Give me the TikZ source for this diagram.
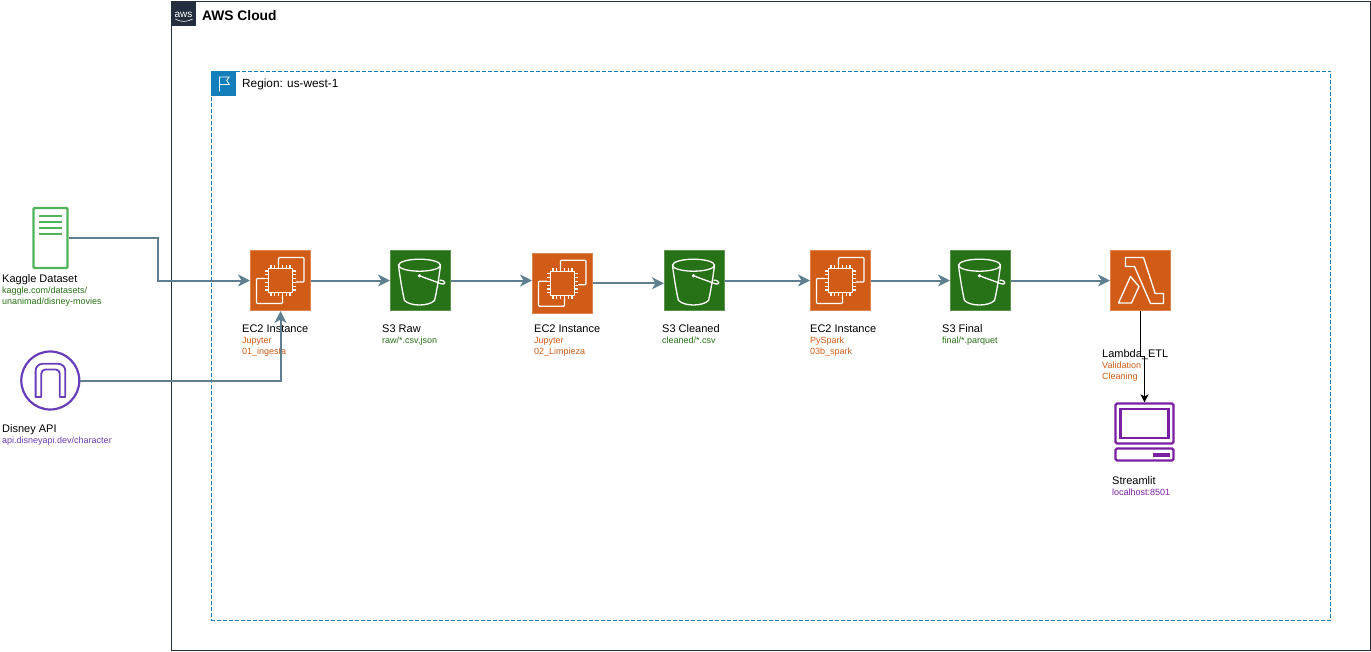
\documentclass[tikz,border=0pt]{standalone}
\usepackage{fontspec}
\setmainfont{Liberation Sans}
\usetikzlibrary{arrows.meta,positioning,calc}
\definecolor{cloudink}{HTML}{232F3E}
\definecolor{regionink}{HTML}{147EBA}
\definecolor{ec2ink}{HTML}{D05C17}
\definecolor{s3ink}{HTML}{277116}
\definecolor{srvink}{HTML}{4FB35A}
\definecolor{apiink}{HTML}{6A3DB8}
\definecolor{mainink}{HTML}{7A1FA2}
\definecolor{flowink}{HTML}{5F7F90}
\newcommand{\nm}[1]{{\fontsize{11}{12}\selectfont\color{black}#1}}

\begin{document}
\begin{tikzpicture}[x=1pt,y=-1pt,
  tile/.style={draw=#1!75!white,fill=#1,line width=0.6pt,minimum size=60.4pt,inner sep=0pt},
  lbl/.style={anchor=north west,align=left,inner sep=0pt,font=\fontsize{9}{11}\selectfont},
  flow/.style={-{Stealth[length=12pt,width=12pt,inset=3.5pt]},draw=flowink,line width=2pt},
  thin wht/.style={draw=white,line width=1.3pt,line join=round},
  ec2chip/.pic={
    \draw[thin wht] (-12,-12) rectangle (12,12);
    \foreach \t in {-9.5,-5.7,-1.9,1.9,5.7,9.5}{
      \draw[thin wht] (\t,-15.5) -- (\t,-12) (\t,12) -- (\t,15.5);
      \draw[thin wht] (-15.5,\t) -- (-12,\t) (12,\t) -- (15.5,\t);
    }
    \draw[thin wht,rounded corners=1pt] (-2,-15) -- (-2,-23) -- (23.5,-23) -- (23.5,1.5) -- (15.5,1.5);
    \draw[thin wht,rounded corners=1pt] (-15.5,-2) -- (-24,-2) -- (-24,23) -- (2,23) -- (2,15);
  },
  s3bucket/.pic={
    \draw[thin wht] (-1,-15.3) ellipse (21 and 6);
    \draw[thin wht] (-22,-15) .. controls (-20,0) and (-18,12) .. (-16,20) .. controls (-10,26) and (8,26) .. (14,20) .. controls (16,12) and (18,0) .. (20,-15);
    \fill[white] (-1,-4.7) circle (1.9);
    \draw[thin wht] (-1,-4.7) -- (20,3) .. controls (26,5) and (26,0) .. (19,-0.5);
  },
  lamglyph/.pic={
    \draw[thin wht] (-15,-23) -- (3,-23) -- (14.7,13) -- (23,13) -- (23,23) -- (10,23) -- (-6,-14) -- (-15,-14) -- cycle;
    \draw[thin wht] (-10,-4) -- (-22,22.5) -- (-9,22.5) -- (-1.5,6) -- cycle;
  }]
\useasboundingbox (0,0) rectangle (1371,651);
\node[draw=cloudink,line width=1pt,minimum width=1199pt,minimum height=649.5pt,anchor=north west,inner sep=0pt] (cloudBox) at (170.7,0.5) {};
\node[fill=cloudink,minimum size=25pt,inner sep=0pt,anchor=north west] (cloudTab) at (170.7,0.5) {};
\node[text=white,inner sep=0pt,font=\fontsize{10}{10}\selectfont] (cloudLogo) at ([yshift=-2pt]cloudTab.center) {aws};
\draw[white,line width=0.6pt] ($(cloudLogo.south west)+(1,1)$) .. controls ($(cloudLogo.south)+(-2,4)$) and ($(cloudLogo.south)+(3,4)$) .. ($(cloudLogo.south east)+(0,1)$);
\node[anchor=west,inner sep=0pt,font=\bfseries\fontsize{13.8}{14}\selectfont] (cloudTxt) at (202,15.5) {AWS Cloud};
\node[draw=regionink,dash pattern=on 4pt off 2pt,line width=1pt,minimum width=1119.5pt,minimum height=549.5pt,anchor=north west,inner sep=0pt] (regionBox) at (210.5,70.7) {};
\node[fill=regionink,minimum size=25pt,inner sep=0pt,anchor=north west] (regionTab) at (210.5,70.7) {};
\draw[white,line width=0.8pt] ($(regionTab.center)+(-3.8,8)$) -- ($(regionTab.center)+(-3.8,-6.5)$) -- ($(regionTab.center)+(6,-6.5)$) -- ($(regionTab.center)+(3.5,-3)$) -- ($(regionTab.center)+(6,1)$) -- ($(regionTab.center)+(-3.8,1)$);
\node[anchor=west,inner sep=0pt,font=\fontsize{11.8}{12}\selectfont] (regionTxt) at (242,84.5) {Region: us-west-1};

\node[draw=srvink,line width=2.2pt,rounded corners=1pt,minimum width=34pt,minimum height=60pt,inner sep=0pt] (kaggleSrv) at (50.5,238) {};
\foreach \t in {-22.3,-16.3,-10.3,-4.3}
  \draw[srvink,line width=2pt] ($(kaggleSrv.center)+(-11.5,\t)$) -- ($(kaggleSrv.center)+(11.5,\t)$);
\node[draw=apiink,circle,line width=2.2pt,minimum size=58pt,inner sep=0pt] (apiGate) at (50.3,380.5) {};
\draw[apiink,line width=1.8pt,line join=round] ($(apiGate.center)+(-9,16.5)$) -- ($(apiGate.center)+(-14.7,16.5)$) [rounded corners=7pt] -- ($(apiGate.center)+(-14.7,-16.7)$) -- ($(apiGate.center)+(15,-16.7)$) [sharp corners] -- ($(apiGate.center)+(15,16.5)$) -- ($(apiGate.center)+(9.5,16.5)$) [rounded corners=4pt] -- ($(apiGate.center)+(9.5,-11)$) -- ($(apiGate.center)+(-9,-11)$) [sharp corners] -- cycle;

\node[tile=ec2ink] (ec2Ing) at (280.5,280.5) {};
\node[tile=s3ink] (s3Raw) at (420.5,280.5) {};
\node[tile=ec2ink] (ec2Lim) at (562.5,283.3) {};
\node[tile=s3ink] (s3Cln) at (694.5,280.5) {};
\node[tile=ec2ink] (ec2Spk) at (840.5,280.5) {};
\node[tile=s3ink] (s3Fin) at (980.5,280.5) {};
\node[tile=ec2ink] (lamEtl) at (1140.5,280.5) {};
\pic at (ec2Ing) {ec2chip};
\pic at (ec2Lim) {ec2chip};
\pic at (ec2Spk) {ec2chip};
\pic at (s3Raw) {s3bucket};
\pic at (s3Cln) {s3bucket};
\pic at (s3Fin) {s3bucket};
\pic at (lamEtl) {lamglyph};

\node[draw=mainink,line width=2.2pt,rounded corners=1.5pt,minimum width=58pt,minimum height=40pt,inner sep=0pt] (stream) at (1144.5,423.5) {};
\node[draw=mainink,line width=2.2pt,minimum width=48pt,minimum height=29pt,inner sep=0pt] (streamScr) at (stream.center) {};
\node[draw=mainink,line width=2.2pt,rounded corners=1.5pt,minimum width=58pt,minimum height=12pt,inner sep=0pt] (streamBase) at (1144.5,454.5) {};
\fill[mainink] ($(streamBase.center)+(8.5,-2)$) rectangle ($(streamBase.center)+(25.5,2.5)$);

\node[lbl,text=s3ink] (kaggleLbl) at (2,274.5) {\nm{Kaggle Dataset}\\kaggle.com/datasets/\\unanimad/disney-movies};
\node[lbl,text=apiink] (apiLbl) at (2,424.5) {\nm{Disney API}\\api.disneyapi.dev/character};
\node[lbl,text=ec2ink] (ec2IngLbl) at (242,324.5) {\nm{EC2 Instance}\\Jupyter\\01\_ingesta};
\node[lbl,text=s3ink] (s3RawLbl) at (382,324.5) {\nm{S3 Raw}\\raw/*.csv,json};
\node[lbl,text=ec2ink] (ec2LimLbl) at (534,324.5) {\nm{EC2 Instance}\\Jupyter\\02\_Limpieza};
\node[lbl,text=s3ink] (s3ClnLbl) at (662,324.5) {\nm{S3 Cleaned}\\cleaned/*.csv};
\node[lbl,text=ec2ink] (ec2SpkLbl) at (810,324.5) {\nm{EC2 Instance}\\PySpark\\03b\_spark};
\node[lbl,text=s3ink] (s3FinLbl) at (942,324.5) {\nm{S3 Final}\\final/*.parquet};
\node[lbl,text=ec2ink] (lamLbl) at (1102,349.5) {\nm{Lambda\_ETL}\\Validation\\Cleaning};
\node[lbl,text=mainink] (streamLbl) at (1112,476.5) {\nm{Streamlit}\\localhost:8501};

\coordinate (kagBend) at (158,280.5);
\coordinate (lamJog) at (1144.5,356.5);
\draw[flow] (kaggleSrv.east) -| (kagBend) -- (ec2Ing.west);
\draw[flow] (apiGate.east) -| (ec2Ing.south);
\draw[flow] (ec2Ing) -- (s3Raw);
\draw[flow] (s3Raw.east) -- (s3Raw.east -| ec2Lim.west);
\draw[flow] (ec2Lim.east) -- (ec2Lim.east -| s3Cln.west);
\draw[flow] (s3Cln) -- (ec2Spk);
\draw[flow] (ec2Spk) -- (s3Fin);
\draw[flow] (s3Fin) -- (lamEtl);
\draw[-{Stealth[length=8pt,width=8pt,inset=2pt]},line width=1.4pt] (lamEtl.south) |- (lamJog) -- (stream.north);
\end{tikzpicture}
\end{document}
